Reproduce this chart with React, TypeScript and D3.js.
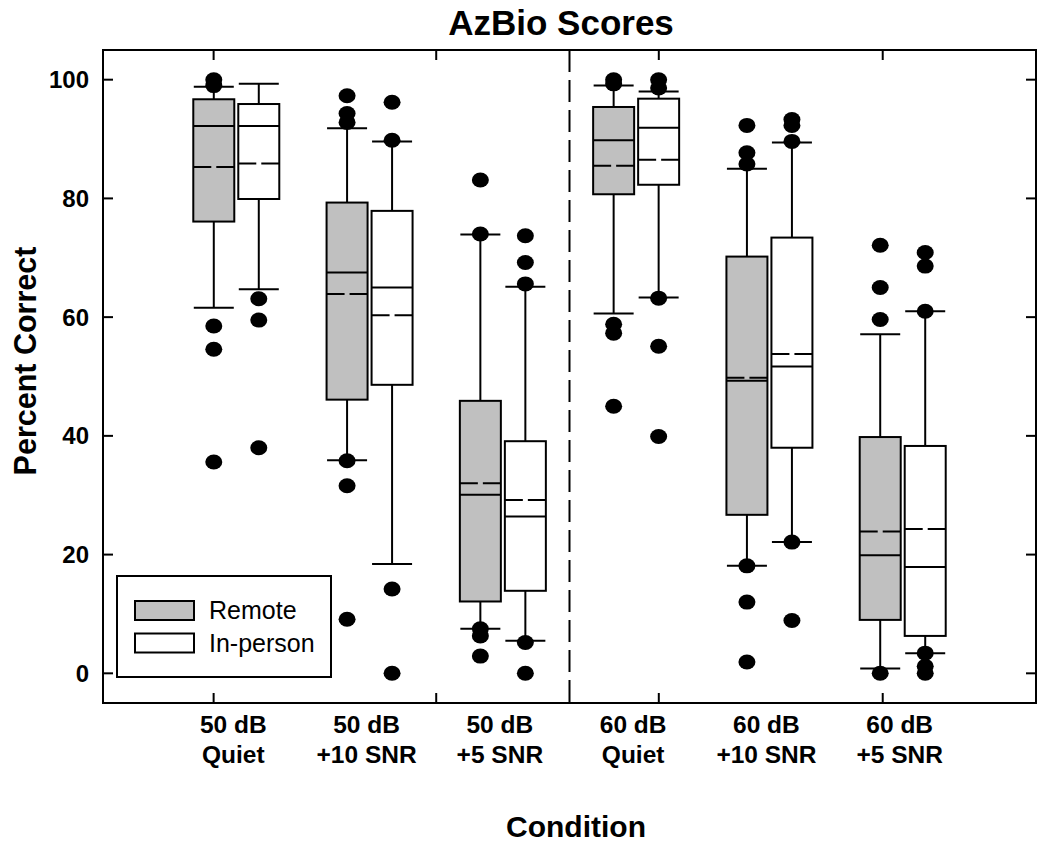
import React from "react";
import * as d3 from "d3";

// ---------- data ----------
const condLine1 = ["50 dB", "50 dB", "50 dB", "60 dB", "60 dB", "60 dB"];
const condLine2 = ["Quiet", "+10 SNR", "+5 SNR", "Quiet", "+10 SNR", "+5 SNR"];

const remoteLow = [61.6, 35.9, 7.5, 60.6, 18.1, 0.8];
const remoteQ1 = [76.1, 46.1, 12.1, 80.7, 26.7, 9.0];
const remoteMedian = [92.2, 67.5, 30.1, 89.8, 49.3, 19.9];
const remoteMean = [85.3, 63.9, 32.0, 85.5, 49.8, 23.9];
const remoteQ3 = [96.7, 79.3, 45.9, 95.4, 70.2, 39.8];
const remoteHigh = [98.8, 91.8, 73.9, 99.0, 85.0, 57.1];
const remoteOutliers = [
  [100, 99, 58.5, 54.6, 35.6],
  [97.3, 94.3, 92.8, 35.8, 31.6, 9.1],
  [83.1, 74.0, 7.5, 6.3, 2.9],
  [100, 99.3, 58.8, 57.3, 45.0],
  [92.3, 87.7, 85.8, 18.1, 12.0, 1.9],
  [72.1, 65.0, 59.6, 0],
];

const inLow = [64.7, 18.4, 5.5, 63.3, 22.1, 3.4];
const inQ1 = [79.9, 48.6, 13.9, 82.3, 38.0, 6.3];
const inMedian = [92.2, 65.0, 26.4, 91.9, 51.7, 17.9];
const inMean = [85.9, 60.3, 29.2, 86.5, 53.8, 24.3];
const inQ3 = [95.9, 77.9, 39.1, 96.8, 73.4, 38.3];
const inHigh = [99.3, 89.6, 65.1, 98.0, 89.4, 61.0];
const inOutliers = [
  [63.1, 59.5, 38.0],
  [96.2, 89.8, 14.2, 0],
  [73.7, 69.2, 65.6, 5.2, 0],
  [100, 98.6, 63.2, 55.1, 39.9],
  [93.3, 92.3, 89.6, 22.1, 8.9],
  [70.9, 68.6, 61.0, 3.4, 1.2, 0],
];

const yTicks = [0, 20, 40, 60, 80, 100];
const xFrameTicks = [0.83, 2.5, 4.17, 5.85];
const seriesNames = ["Remote", "In-person"];

// ---------- layout ----------
const W = 1050;
const H = 848;
const L = 103, R = 1036, T = 50, B = 703;
const FONT = "'Liberation Sans', Arial, sans-serif";

const x = d3.scaleLinear().domain([0, 7]).range([L, R]);
const y = d3.scaleLinear().domain([-5, 105]).range([B, T]);

const BOX_W = 41;
const OFFSET = 22.5;
const CAP_W = 40;
const SW = 2;

type Stats = {
  low: number[]; q1: number[]; med: number[]; mean: number[]; q3: number[]; high: number[]; out: number[][];
};

const series: { name: string; fill: string; off: number; s: Stats }[] = [
  { name: seriesNames[0], fill: "#c0c0c0", off: -OFFSET, s: { low: remoteLow, q1: remoteQ1, med: remoteMedian, mean: remoteMean, q3: remoteQ3, high: remoteHigh, out: remoteOutliers } },
  { name: seriesNames[1], fill: "#ffffff", off: OFFSET, s: { low: inLow, q1: inQ1, med: inMedian, mean: inMean, q3: inQ3, high: inHigh, out: inOutliers } },
];

function Box({ cx, i, s, fill }: { cx: number; i: number; s: Stats; fill: string }) {
  const x0 = cx - BOX_W / 2;
  const x1 = cx + BOX_W / 2;
  return (
    <g>
      <line x1={cx} x2={cx} y1={y(s.q3[i])} y2={y(s.high[i])} stroke="#000" strokeWidth={SW} />
      <line x1={cx} x2={cx} y1={y(s.q1[i])} y2={y(s.low[i])} stroke="#000" strokeWidth={SW} />
      <line x1={cx - CAP_W / 2} x2={cx + CAP_W / 2} y1={y(s.high[i])} y2={y(s.high[i])} stroke="#000" strokeWidth={SW} />
      <line x1={cx - CAP_W / 2} x2={cx + CAP_W / 2} y1={y(s.low[i])} y2={y(s.low[i])} stroke="#000" strokeWidth={SW} />
      <rect x={x0} y={y(s.q3[i])} width={BOX_W} height={y(s.q1[i]) - y(s.q3[i])} fill={fill} stroke="#000" strokeWidth={SW} />
      <line x1={x0} x2={x1} y1={y(s.med[i])} y2={y(s.med[i])} stroke="#000" strokeWidth={SW} />
      <line x1={x0} x2={x1} y1={y(s.mean[i])} y2={y(s.mean[i])} stroke="#000" strokeWidth={SW} strokeDasharray={`${BOX_W / 2 - 2.5} 5 ${BOX_W / 2}`} />
      {s.out[i].map((v, k) => (
        <ellipse key={k} cx={cx} cy={y(v)} rx={8.5} ry={7.5} fill="#000" />
      ))}
    </g>
  );
}

export default function App() {
  return (
    <svg width={W} height={H} style={{ position: "absolute", left: 0, top: 0, background: "#fff" }} fontFamily={FONT}>
      <rect x={0} y={0} width={W} height={H} fill="#fff" />
      <text x={561} y={35} textAnchor="middle" fontSize={35} fontWeight="bold">AzBio Scores</text>

      <line x1={x(3.5)} x2={x(3.5)} y1={T} y2={B} stroke="#000" strokeWidth={SW} strokeDasharray="22 8" />

      {condLine1.map((_, i) => (
        <g key={i}>
          {series.map((sr) => (
            <Box key={sr.name} cx={x(i + 1) + sr.off} i={i} s={sr.s} fill={sr.fill} />
          ))}
        </g>
      ))}

      <rect x={L} y={T} width={R - L} height={B - T} fill="none" stroke="#000" strokeWidth={SW} />

      {yTicks.map((t) => (
        <g key={t}>
          <line x1={L} x2={L + 10} y1={y(t)} y2={y(t)} stroke="#000" strokeWidth={SW} />
          <line x1={R - 10} x2={R} y1={y(t)} y2={y(t)} stroke="#000" strokeWidth={SW} />
          <text x={89} y={y(t)} dy="0.35em" textAnchor="end" fontSize={24} fontWeight="bold">{t}</text>
        </g>
      ))}

      {xFrameTicks.map((t) => (
        <g key={t}>
          <line x1={x(t)} x2={x(t)} y1={B} y2={B - 10} stroke="#000" strokeWidth={SW} />
          <line x1={x(t)} x2={x(t)} y1={T} y2={T + 10} stroke="#000" strokeWidth={SW} />
        </g>
      ))}

      {condLine1.map((c, i) => (
        <text key={i} x={x(i + 1) - 3} y={733} textAnchor="middle" fontSize={24.5} fontWeight="bold">
          <tspan x={x(i + 1) - 3}>{c}</tspan>
          <tspan x={x(i + 1) - 3} dy={30}>{condLine2[i]}</tspan>
        </text>
      ))}

      <text x={576} y={837} textAnchor="middle" fontSize={30} fontWeight="bold">Condition</text>
      <text transform={`translate(36, 361) rotate(-90)`} textAnchor="middle" fontSize={30.5} fontWeight="bold">Percent Correct</text>

      <rect x={117} y={576} width={214} height={101} fill="#fff" stroke="#000" strokeWidth={SW} />
      {series.map((sr, k) => (
        <g key={sr.name}>
          <rect x={135} y={601 + k * 32.5} width={59} height={19} fill={sr.fill} stroke="#000" strokeWidth={SW} />
          <text x={209} y={619 + k * 32.5} fontSize={25}>{sr.name}</text>
        </g>
      ))}
    </svg>
  );
}
